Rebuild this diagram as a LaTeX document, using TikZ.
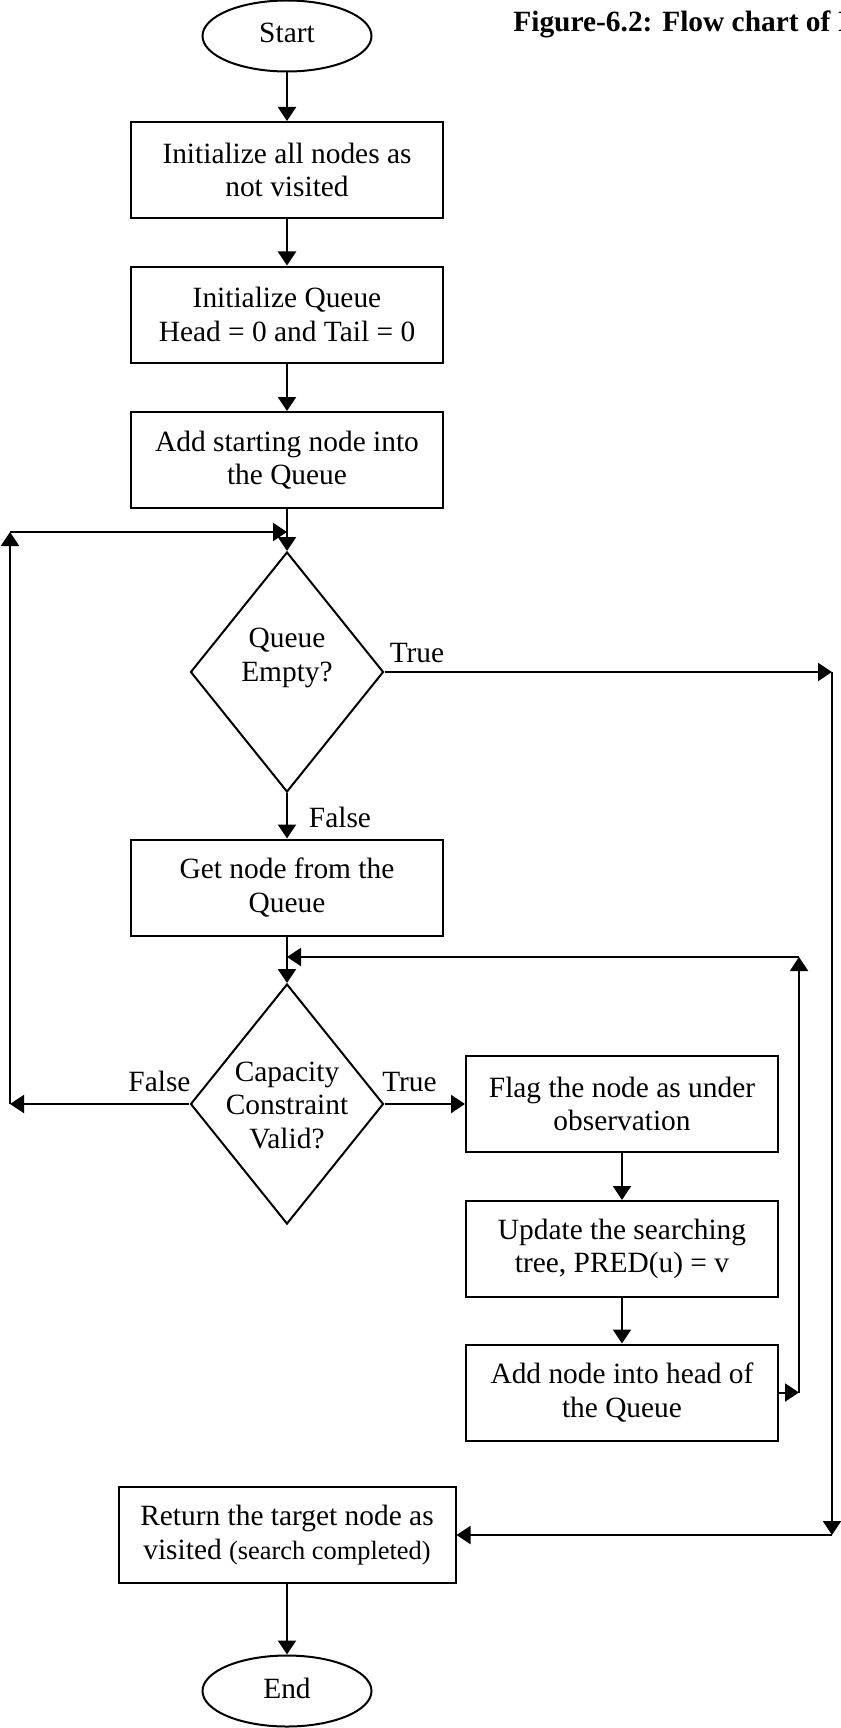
\documentclass[tikz,border=0pt]{standalone}
\usepackage{fontspec}
\setmainfont{Liberation Serif}
\usetikzlibrary{arrows.meta,shapes.geometric}

\begin{document}
\begin{tikzpicture}[
    x=0.5pt, y=-0.5pt,
    font=\fontsize{14.7}{16.75}\selectfont,
    terminal/.style={ellipse, draw, line width=1pt, minimum width=84.5pt, minimum height=35.5pt, inner sep=0pt, text depth=3pt},
    process/.style={rectangle, draw, line width=1pt, minimum width=156pt, minimum height=48pt, align=center, inner sep=0pt},
    wide process/.style={process, minimum width=168.5pt},
    decision/.style={diamond, draw, line width=1pt, minimum width=96.5pt, minimum height=120pt, inner sep=0pt},
    decision text/.style={align=center, inner sep=0pt},
    flow/.style={-{Triangle[length=7pt, width=9pt]}, line width=1pt},
    branch label/.style={anchor=base, inner sep=0pt}
]

% Page frame
\useasboundingbox (0,0) rectangle (840,1728);

% Title
\node[font=\fontsize{14.7}{16.75}\selectfont\bfseries, anchor=base west, inner sep=0pt] (title) at (513,32) {Figure-6.2: Flow chart of I};

% Main column
\node[terminal] (start) at (287,36) {Start};
\node[process] (init) at (287,170) {Initialize all nodes as\\not visited};
\node[process] (qinit) at (287,314.5) {Initialize Queue\\Head = 0 and Tail = 0};
\node[process] (addstart) at (287,460) {Add starting node into\\the Queue};
\node[decision] (qempty) at (287,672) {};
\node[decision text] (qemptytext) at (287,658) {Queue\\Empty?};
\node[process] (getnode) at (287,887.5) {Get node from the\\Queue};
\node[decision] (cap) at (287,1104) {};
\node[decision text] (captext) at (287,1105) {Capacity\\Constraint\\Valid?};

% Right branch
\node[process] (flag) at (622,1104) {Flag the node as under\\observation};
\node[process] (update) at (622,1249) {Update the searching\\tree, PRED(u) = v};
\node[process] (addhead) at (622,1392.5) {Add node into head of\\the Queue};

% End of search
\node[wide process] (ret) at (287,1535) {Return the target node as\\visited {\fontsize{13.2}{16.75}\selectfont (search completed)}};
\node[terminal] (end) at (287,1691) {End};

% Straight connections
\draw[flow] (start) -- (init);
\draw[flow] (init) -- (qinit);
\draw[flow] (qinit) -- (addstart);
\draw[flow] (addstart) -- (qempty);
\draw[flow] (qempty) -- (getnode);
\draw[flow] (getnode) -- (cap);
\draw[flow] (cap) -- (flag);
\draw[flow] (flag) -- (update);
\draw[flow] (update) -- (addhead);
\draw[flow] (ret) -- (end);

% Queue empty: True
\coordinate (t1) at (832,672);
\coordinate (t2) at (832,1535);
\draw[flow] (qempty) -- (t1);
\draw[flow] (t1) -- (t2);
\draw[flow] (t2) -- (ret);

% Capacity not valid: back to the queue test
\coordinate (f1) at (10,1104);
\coordinate (f2) at (10,532);
\coordinate (f3) at (287,532);
\draw[flow] (cap) -- (f1);
\draw[flow] (f1) -- (f2);
\draw[flow] (f2) -- (f3);

% Loop back to the capacity test
\coordinate (b1) at (799,1392.5);
\coordinate (b2) at (799,957);
\coordinate (b3) at (287,957);
\draw[flow] (addhead) -- (b1);
\draw[flow] (b1) -- (b2);
\draw[flow] (b2) -- (b3);

% Branch labels
\node[branch label] (qtrue) at (417,662) {True};
\node[branch label] (qfalse) at (340,827) {False};
\node[branch label] (cfalse) at (159.5,1091) {False};
\node[branch label] (ctrue) at (409.5,1091) {True};

\end{tikzpicture}
\end{document}
